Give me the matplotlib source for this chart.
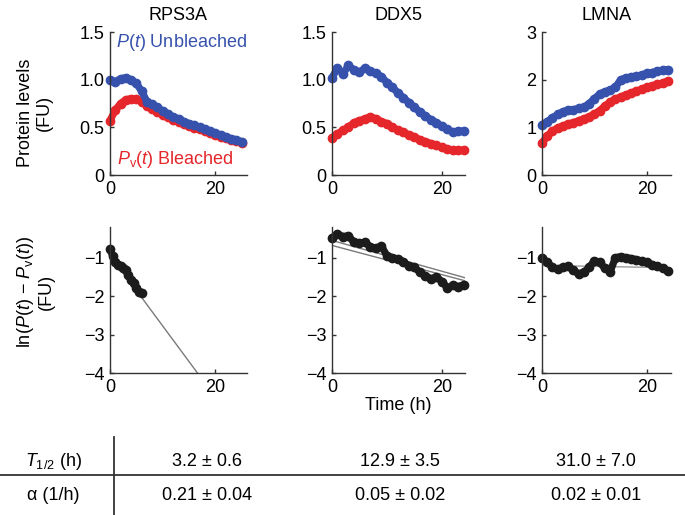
import matplotlib
matplotlib.use("Agg")
import matplotlib.pyplot as plt
import numpy as np
from matplotlib.lines import Line2D

plt.rcParams['font.family'] = ['Liberation Sans', 'DejaVu Sans']
plt.rcParams['font.size'] = 13
plt.rcParams['mathtext.fontset'] = 'custom'
plt.rcParams['mathtext.rm'] = 'Liberation Sans'
plt.rcParams['mathtext.it'] = 'Liberation Sans:italic'

BLUE = "#3652ad"
RED = "#e5262b"
DARK = "#1c1c1c"
GRAY = "#7a7a7a"
AXC = "#333333"
FS = 13

proteins = ["RPS3A", "DDX5", "LMNA"]

# time grids (h)
t_rps3a = np.arange(26)
t_ddx5 = np.arange(25)
t_lmna = np.arange(25)

# P(t) unbleached / Pv(t) bleached (FU)
rps3a_unbleached = [1.00, 0.98, 1.01, 1.02, 1.00, 0.96, 0.88, 0.77, 0.74, 0.71, 0.67, 0.64, 0.61,
                    0.59, 0.56, 0.54, 0.52, 0.50, 0.48, 0.46, 0.44, 0.42, 0.40, 0.38, 0.37, 0.35]
rps3a_bleached = [0.57, 0.68, 0.75, 0.79, 0.80, 0.80, 0.77, 0.72, 0.69, 0.66, 0.63, 0.61, 0.58,
                  0.56, 0.53, 0.51, 0.49, 0.48, 0.46, 0.44, 0.42, 0.40, 0.39, 0.37, 0.36, 0.34]

ddx5_unbleached = [1.02, 1.12, 1.06, 1.15, 1.10, 1.08, 1.12, 1.09, 1.07, 1.03, 0.97, 0.92, 0.86,
                   0.81, 0.76, 0.71, 0.66, 0.62, 0.58, 0.55, 0.51, 0.48, 0.45, 0.46, 0.46]
ddx5_bleached = [0.39, 0.43, 0.47, 0.50, 0.55, 0.57, 0.59, 0.61, 0.59, 0.56, 0.54, 0.50, 0.47,
                 0.45, 0.42, 0.40, 0.37, 0.35, 0.33, 0.31, 0.29, 0.27, 0.26, 0.26, 0.26]

lmna_unbleached = [1.05, 1.12, 1.20, 1.27, 1.33, 1.36, 1.37, 1.40, 1.42, 1.50, 1.60, 1.70, 1.75,
                   1.78, 1.84, 2.00, 2.04, 2.05, 2.07, 2.10, 2.13, 2.15, 2.18, 2.20, 2.20]
lmna_bleached = [0.67, 0.82, 0.92, 0.99, 1.03, 1.07, 1.10, 1.14, 1.18, 1.22, 1.28, 1.35, 1.45,
                 1.53, 1.59, 1.64, 1.68, 1.72, 1.76, 1.80, 1.84, 1.87, 1.90, 1.93, 1.97]

# ln(P(t) - Pv(t))
t_rps3a_ln = [0, 0.5, 1, 1.5, 2, 2.5, 3, 3.5, 4, 4.5, 5, 5.5, 6]
rps3a_ln = [-0.78, -0.95, -1.10, -1.18, -1.22, -1.28, -1.33, -1.45, -1.58, -1.65, -1.80, -1.88, -1.92]
ddx5_ln = [-0.48, -0.38, -0.45, -0.43, -0.60, -0.62, -0.60, -0.72, -0.75, -0.70, -0.95, -1.00, -1.03,
           -1.10, -1.22, -1.25, -1.38, -1.47, -1.55, -1.50, -1.62, -1.78, -1.72, -1.75, -1.70]
lmna_ln = [-1.00, -1.12, -1.25, -1.30, -1.25, -1.22, -1.33, -1.42, -1.38, -1.25, -1.08, -1.12, -1.28,
           -1.36, -1.00, -0.97, -1.00, -1.02, -1.05, -1.08, -1.12, -1.18, -1.22, -1.28, -1.35]

# exponential fit lines (endpoints)
fit_rps3a_x = [0, 16.6]
fit_rps3a_y = [-0.92, -4.0]
fit_ddx5_x = [[0, 24.2], [0, 24.2]]
fit_ddx5_y = [[-0.55, -1.52], [-0.68, -1.60]]
fit_lmna_x = [0, 24.6]
fit_lmna_y = [-1.20, -1.26]

# table
t_half = ["3.2 \u00b1 0.6", "12.9 \u00b1 3.5", "31.0 \u00b1 7.0"]
alpha = ["0.21 \u00b1 0.04", "0.05 \u00b1 0.02", "0.02 \u00b1 0.01"]

W, H = 685, 515
fig = plt.figure(figsize=(W / 100, H / 100), dpi=100)

def px_axes(x0, x1, ytop, ybot):
    return fig.add_axes([x0 / W, 1 - ybot / H, (x1 - x0) / W, (ybot - ytop) / H])

cols = [(110, 247), (332, 465), (542, 671)]
xmax = [26, 24.2, 24.6]

def style(ax):
    for s in ["top", "right"]:
        ax.spines[s].set_visible(False)
    for s in ["left", "bottom"]:
        ax.spines[s].set_color(AXC)
        ax.spines[s].set_linewidth(1.0)
    ax.tick_params(direction="in", length=3, width=1, color=AXC, labelsize=FS, pad=4)
    ax.set_xticks([0, 20])

def beads(ax, t, y, color):
    ax.plot(t, y, color=color, lw=5.2, marker="o", ms=6, solid_capstyle="round",
            solid_joinstyle="round", clip_on=False)

top_data = [(t_rps3a, rps3a_unbleached, rps3a_bleached),
            (t_ddx5, ddx5_unbleached, ddx5_bleached),
            (t_lmna, lmna_unbleached, lmna_bleached)]

for i, (t, pu, pb) in enumerate(top_data):
    ax = px_axes(cols[i][0], cols[i][1], 32, 175)
    style(ax)
    beads(ax, t, pb, RED)
    beads(ax, t, pu, BLUE)
    ax.set_xlim(0, xmax[i])
    if i < 2:
        ax.set_ylim(0, 1.5)
        ax.set_yticks([0, 0.5, 1.0, 1.5])
        ax.set_yticklabels(["0", "0.5", "1.0", "1.5"])
    else:
        ax.set_ylim(0, 3)
        ax.set_yticks([0, 1, 2, 3])
    ax.set_title(proteins[i], fontsize=FS, pad=9)
    if i == 0:
        ax.text(1.0, 0.925, "$P$($t$) Unbleached", color=BLUE, transform=ax.transAxes,
                ha="right", va="center", fontsize=FS)
        ax.text(0.05, 0.105, "$P_\\mathrm{v}$($t$) Bleached", color=RED, transform=ax.transAxes,
                ha="left", va="center", fontsize=FS)

bot_data = [(t_rps3a_ln, rps3a_ln), (t_ddx5, ddx5_ln), (t_lmna, lmna_ln)]
for i, (t, y) in enumerate(bot_data):
    ax = px_axes(cols[i][0], cols[i][1], 227, 373)
    style(ax)
    if i == 0:
        ax.plot(fit_rps3a_x, fit_rps3a_y, color=GRAY, lw=1.0)
    elif i == 1:
        for fx, fy in zip(fit_ddx5_x, fit_ddx5_y):
            ax.plot(fx, fy, color=GRAY, lw=1.0)
    beads(ax, t, y, DARK)
    if i == 2:
        ax.plot(fit_lmna_x, fit_lmna_y, color="#9a9a9a", lw=1.0, zorder=1)
    ax.set_xlim(0, xmax[i])
    ax.set_ylim(-4, -0.2)
    ax.set_yticks([-4, -3, -2, -1])
    if i == 1:
        ax.set_xlabel("Time (h)", fontsize=FS, labelpad=1)

fig.text(35 / W, 1 - 113 / H, "Protein levels\n(FU)", rotation=90, ha="center", va="center",
         multialignment="center", fontsize=FS)
fig.text(35 / W, 1 - 292 / H, "ln($P$($t$) \u2212 $P_\\mathrm{v}$($t$))\n(FU)", rotation=90,
         ha="center", va="center", multialignment="center", fontsize=FS)

# table lines
fig.add_artist(Line2D([0, 1], [1 - 475 / H] * 2, color=AXC, lw=1.3))
fig.add_artist(Line2D([114 / W] * 2, [1 - 437 / H, 0], color=AXC, lw=1.3))

fig.text(53 / W, 1 - 461 / H, "$T_{1/2}$ (h)", ha="center", va="center", fontsize=FS)
fig.text(53 / W, 1 - 496 / H, "\u03b1 (1/h)", ha="center", va="center", fontsize=FS)
val_x = [207, 400, 596]
for j in range(3):
    fig.text(val_x[j] / W, 1 - 461 / H, t_half[j], ha="center", va="center", fontsize=FS)
    fig.text(val_x[j] / W, 1 - 496 / H, alpha[j], ha="center", va="center", fontsize=FS)

fig.savefig("out.png", dpi=100)
